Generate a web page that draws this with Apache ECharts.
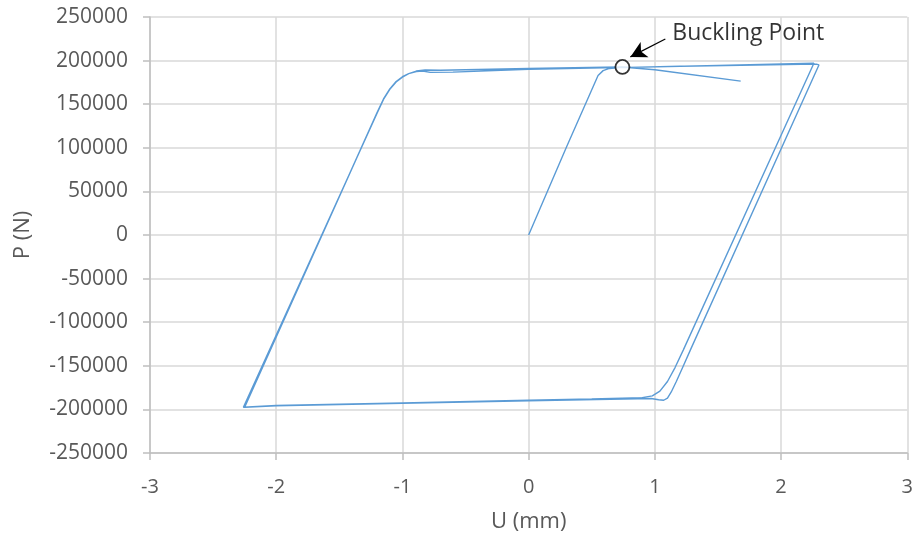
<!DOCTYPE html>
<html>
<head>
<meta charset="utf-8">
<script src="https://cdn.jsdelivr.net/npm/echarts@6/dist/echarts.min.js"></script>
<style>html,body{margin:0;padding:0;background:#fff}#c{width:916px;height:540px}</style>
</head>
<body>
<div id="c"></div>
<script>
// Displacement U (mm) along the hysteresis path
const uValues = [
  0, 0.30, 0.55, 0.59, 0.64, 0.72,
  1.2, 1.8, 2.28, 2.30,
  1.281, 1.22, 1.17, 1.13, 1.10, 1.07, 1.03, 0.97,
  0.0, -1.0, -2.0, -2.25,
  -1.20, -1.15, -1.10, -1.05, -1.00, -0.95, -0.89, -0.84, -0.78, -0.6, 0, 0.7, 1.5, 2.26,
  1.225, 1.16, 1.10, 1.04, 0.98, 0.9, 0.5, 0, -1, -2, -2.26,
  -1.20, -1.15, -1.10, -1.05, -1.00, -0.95, -0.89, -0.82, -0.7, 0, 0.6, 0.74, 1.0, 1.68
];
// Load P (N) along the same path
const pValues = [
  0, 101000, 183000, 188500, 191000, 192000,
  193500, 194800, 196000, 195000,
  -132000, -152000, -168000, -180000, -187000, -189500, -189000, -187500,
  -190000, -193000, -196000, -197500,
  140600, 156000, 167500, 176000, 181500, 185000, 187500, 188000, 186500, 186800, 190000, 192000, 194500, 197000,
  -132000, -152000, -168000, -179000, -184500, -186500, -188000, -189500, -192500, -195500, -197500,
  140000, 155500, 167000, 175500, 181000, 185000, 188000, 189200, 189000, 191000, 192300, 192700, 189500, 176500
];
const xTicks = [-3, -2, -1, 0, 1, 2, 3];
const yTicks = [-250000, -200000, -150000, -100000, -50000, 0, 50000, 100000, 150000, 200000, 250000];
const bucklingPoint = [0.743, 192700];
const arrowStart = [1.083, 224800];
const arrowEnd = [0.806, 204200];
const labelAnchor = [1.138, 231100];
const labelText = 'Buckling Point';

const pathData = uValues.map((u, i) => [u, pValues[i]]);
const fontFam = '"Open Sans", "Noto Sans", sans-serif';
const chart = echarts.init(document.getElementById('c'), null, {renderer: 'canvas'});
chart.setOption({
  animation: false,
  backgroundColor: '#ffffff',
  grid: {left: 150, right: 7, top: 17, bottom: 87, containLabel: false},
  xAxis: {
    type: 'value', min: xTicks[0], max: xTicks[xTicks.length - 1], interval: 1,
    name: 'U (mm)', nameLocation: 'middle', nameGap: 58,
    nameTextStyle: {fontFamily: fontFam, fontSize: 22, color: '#595959'},
    axisLine: {onZero: false, lineStyle: {color: '#BFBFBF', width: 1.5}},
    axisTick: {show: true, length: 7, lineStyle: {color: '#BFBFBF', width: 1.5}},
    axisLabel: {fontFamily: fontFam, fontSize: 20, color: '#595959', margin: 24,
      formatter: v => String(v)},
    splitLine: {show: true, lineStyle: {color: '#D9D9D9', width: 1.5}}
  },
  yAxis: {
    type: 'value', min: yTicks[0], max: yTicks[yTicks.length - 1], interval: 50000,
    name: 'P (N)', nameLocation: 'middle', nameGap: 116, nameRotate: 90,
    nameTextStyle: {fontFamily: fontFam, fontSize: 22, color: '#595959'},
    axisLine: {show: true, onZero: false, lineStyle: {color: '#BFBFBF', width: 1.5}},
    axisTick: {show: true, length: 7, lineStyle: {color: '#BFBFBF', width: 1.5}},
    axisLabel: {fontFamily: fontFam, fontSize: 21, color: '#595959', margin: 22,
      formatter: v => String(v)},
    splitLine: {show: true, lineStyle: {color: '#D9D9D9', width: 1.5}}
  },
  series: [
    {
      type: 'line', data: pathData, showSymbol: false, symbol: 'none',
      lineStyle: {color: '#5B9BD5', width: 1.4}, z: 2
    },
    {
      type: 'scatter', data: [bucklingPoint], symbol: 'circle', symbolSize: 14,
      itemStyle: {color: '#ffffff', borderColor: '#000000', borderWidth: 1.8}, z: 5,
      markLine: {
        silent: true, symbol: ['none', 'arrow'], symbolSize: [13, 16],
        lineStyle: {color: '#000000', width: 1.3, type: 'solid'},
        label: {show: false},
        data: [[{coord: arrowStart}, {coord: arrowEnd}]]
      }
    },
    {
      type: 'scatter', data: [labelAnchor], symbolSize: 0, z: 6,
      label: {show: true, position: 'right', distance: 0, formatter: labelText,
        fontFamily: fontFam, fontSize: 23, color: '#000000'}
    }
  ]
});
</script>
</body>
</html>
